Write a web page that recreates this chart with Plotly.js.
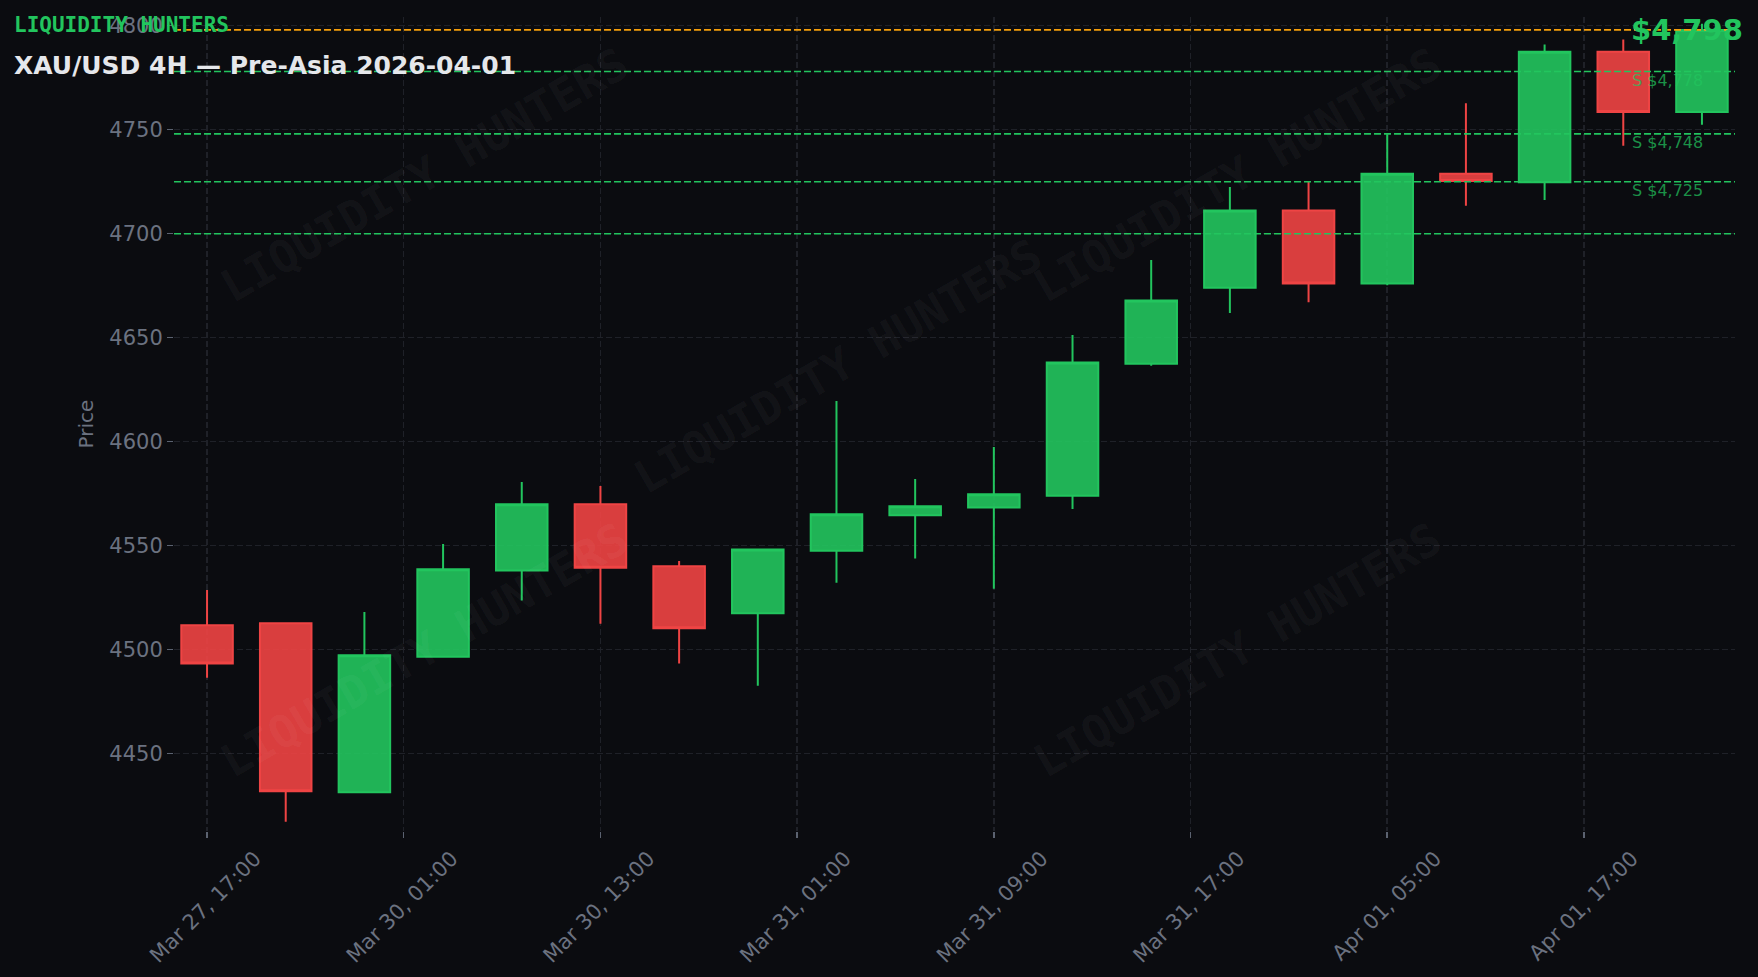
<!DOCTYPE html>
<html>
<head>
<meta charset="utf-8">
<script src="https://cdn.plot.ly/plotly-3.0.1.min.js"></script>
<style>
  html, body { margin: 0; padding: 0; background: #0b0c10; }
  #chart { width: 1758px; height: 977px; }
</style>
</head>
<body>
<div id="chart"></div>
<script>
// ---- data ----
const times = [
  'Mar 27, 17:00', 'Mar 27, 21:00', 'Mar 30, 01:00', 'Mar 30, 05:00', 'Mar 30, 09:00',
  'Mar 30, 13:00', 'Mar 30, 17:00', 'Mar 30, 21:00', 'Mar 31, 01:00', 'Mar 31, 05:00',
  'Mar 31, 09:00', 'Mar 31, 13:00', 'Mar 31, 17:00', 'Mar 31, 21:00', 'Apr 01, 01:00',
  'Apr 01, 05:00', 'Apr 01, 09:00', 'Apr 01, 13:00', 'Apr 01, 17:00', 'Apr 01, 21:00'
];
const openPrices  = [4511.7, 4512.7, 4431.4, 4496.6, 4538.1, 4569.9, 4540.1, 4517.5, 4547.6, 4564.6,
                     4568.3, 4574.0, 4637.5, 4674.0, 4711.2, 4676.1, 4728.8, 4724.8, 4787.5, 4758.5];
const highPrices  = [4528.7, 4513.1, 4518.1, 4550.8, 4580.6, 4578.7, 4542.6, 4548.2, 4619.6, 4582.1,
                     4597.4, 4651.3, 4687.3, 4722.4, 4725.0, 4747.8, 4762.7, 4791.0, 4793.4, 4801.0];
const lowPrices   = [4486.5, 4417.3, 4431.4, 4496.6, 4523.6, 4512.5, 4493.3, 4482.7, 4532.2, 4543.8,
                     4529.3, 4567.6, 4636.5, 4661.9, 4667.1, 4675.2, 4713.5, 4716.2, 4742.3, 4752.4];
const closePrices = [4493.4, 4431.9, 4497.3, 4538.6, 4569.9, 4539.4, 4510.3, 4548.2, 4565.1, 4568.9,
                     4574.7, 4638.1, 4667.9, 4711.2, 4676.0, 4728.8, 4725.3, 4787.5, 4758.5, 4798.0];

const xTickLabels = ['Mar 27, 17:00', 'Mar 30, 01:00', 'Mar 30, 13:00', 'Mar 31, 01:00',
                     'Mar 31, 09:00', 'Mar 31, 17:00', 'Apr 01, 05:00', 'Apr 01, 17:00'];
const yTickValues = [4450, 4500, 4550, 4600, 4650, 4700, 4750, 4800];

const currentPrice = 4798;
const currentPriceLabel = '$4,798';
const supportLevels = [4778, 4748, 4725, 4700];
const supportLabels = ['S $4,778', 'S $4,748', 'S $4,725', ''];

const brandText = 'LIQUIDITY HUNTERS';
const titleText = 'XAU/USD 4H \u2014 Pre-Asia 2026-04-01';

// ---- layout helpers ----
const W = 1758, H = 977;
const M = { l: 174, r: 23, t: 17, b: 146 };
const PW = W - M.l - M.r, PH = H - M.t - M.b;
const px2x = px => (px - M.l) / PW;
const px2y = py => (H - M.b - py) / PH;

const GREEN = '#22c55e', RED = '#ef4444', ORANGE = '#f59e0b';
const GRAY = '#6b7280', BG = '#0b0c10', GRID = '#1f2128';

const xIdx = times.map((_, i) => i);
const tickStep = 2.5;
const xTickVals = xTickLabels.map((_, i) => i * tickStep);

const traces = [{
  type: 'candlestick',
  x: xIdx,
  open: openPrices, high: highPrices, low: lowPrices, close: closePrices,
  increasing: { line: { color: GREEN, width: 2 }, fillcolor: 'rgba(34,197,94,0.9)' },
  decreasing: { line: { color: RED, width: 2 }, fillcolor: 'rgba(239,68,68,0.9)' },
  whiskerwidth: 0,
  hoverinfo: 'skip',
  showlegend: false
}];

const shapes = [];
shapes.push({
  type: 'line', xref: 'paper', x0: 0, x1: 1, yref: 'y', y0: currentPrice, y1: currentPrice,
  line: { color: ORANGE, width: 1.6, dash: '7px,3px' }
});
supportLevels.forEach(v => shapes.push({
  type: 'line', xref: 'paper', x0: 0, x1: 1, yref: 'y', y0: v, y1: v,
  line: { color: GREEN, width: 1.6, dash: '7px,3px' }
}));

const annotations = [];
// watermarks
const wmCenters = [[424, 175], [838, 367], [1237, 175], [424, 650], [1237, 650]];
wmCenters.forEach(([cx, cy]) => annotations.push({
  text: brandText, xref: 'paper', yref: 'paper', x: px2x(cx), y: px2y(cy),
  xanchor: 'center', yanchor: 'middle', showarrow: false, textangle: -30,
  font: { family: 'DejaVu Sans Mono', size: 45, color: 'rgba(255,255,255,0.05)', weight: 'bold' }
}));
// support labels
supportLevels.forEach((v, i) => {
  if (!supportLabels[i]) return;
  annotations.push({
    text: supportLabels[i], xref: 'paper', yref: 'y', x: px2x(1630), y: v,
    xanchor: 'left', yanchor: 'middle', yshift: -9, showarrow: false,
    font: { family: 'DejaVu Sans', size: 16, color: 'rgba(34,197,94,0.72)' }
  });
});
// current price label
annotations.push({
  text: currentPriceLabel, xref: 'paper', yref: 'y', x: px2x(1745), y: currentPrice,
  xanchor: 'right', yanchor: 'middle', showarrow: false,
  font: { family: 'DejaVu Sans', size: 29, color: GREEN, weight: 'bold' }
});
// brand + title
annotations.push({
  text: brandText, xref: 'paper', yref: 'paper', x: px2x(12), y: px2y(25),
  xanchor: 'left', yanchor: 'middle', showarrow: false,
  font: { family: 'DejaVu Sans Mono', size: 21, color: GREEN, weight: 'bold' }
});
annotations.push({
  text: titleText, xref: 'paper', yref: 'paper', x: px2x(12), y: px2y(65),
  xanchor: 'left', yanchor: 'middle', showarrow: false,
  font: { family: 'DejaVu Sans', size: 25, color: '#e5e7eb', weight: 'bold' }
});

const layout = {
  width: W, height: H,
  margin: M,
  paper_bgcolor: BG, plot_bgcolor: BG,
  font: { family: 'DejaVu Sans', color: GRAY, size: 21 },
  showlegend: false,
  boxgap: 0.345, boxgroupgap: 0,
  xaxis: {
    type: 'linear',
    range: [-0.42, 19.42],
    tickmode: 'array', tickvals: xTickVals, ticktext: xTickLabels,
    tickangle: -45,
    ticklabelshift: 48,
    tickfont: { size: 21, color: GRAY },
    ticks: 'outside', ticklen: 6, tickwidth: 1.5, tickcolor: '#5b6270',
    showgrid: true, gridcolor: GRID, gridwidth: 1.5, griddash: '6px,3px',
    zeroline: false, showline: false,
    rangeslider: { visible: false },
    fixedrange: true
  },
  yaxis: {
    range: [4412.8, 4804.2],
    tickmode: 'array', tickvals: yTickValues,
    tickfont: { size: 21, color: GRAY },
    ticks: 'outside', ticklen: 6, tickwidth: 1.5, tickcolor: '#5b6270',
    showgrid: true, gridcolor: GRID, gridwidth: 1.5, griddash: '6px,3px',
    zeroline: false, showline: false,
    title: { text: 'Price', font: { size: 20, color: GRAY }, standoff: 10 },
    fixedrange: true
  },
  shapes: shapes,
  annotations: annotations
};

Plotly.newPlot('chart', traces, layout, { staticPlot: true, displayModeBar: false });
</script>
</body>
</html>
